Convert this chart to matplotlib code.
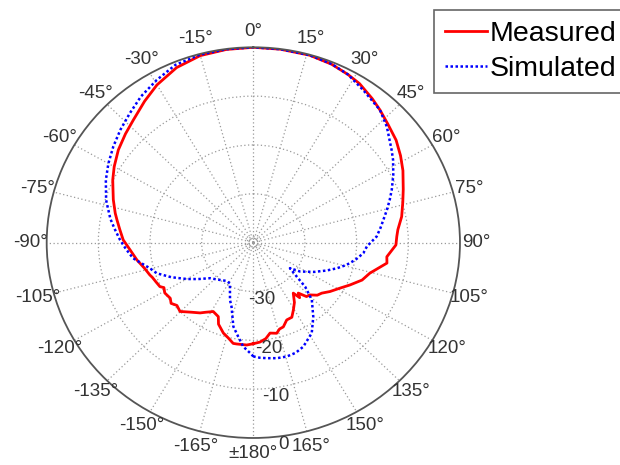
import numpy as np
import matplotlib
matplotlib.use('Agg')
import matplotlib.pyplot as plt

plt.rcParams['font.family'] = ['Liberation Sans', 'DejaVu Sans']

# ---- data (angle in deg, clockwise from top; level in dB) ----
meas_ang = [-180, -176.5, -171.2, -169.3, -166, -162.6, -158, -155.9, -151.2, -147, -144.4,
            -140, -134.8, -131, -128, -125.3, -121, -118, -116.5, -113, -110, -108.3,
            -104, -99, -94, -88.7, -84, -80, -77.3, -72, -68, -64.7, -60, -54, -48,
            -42.8, -36, -30, -22.5, -15, -7.5, 0, 7.5, 15.8, 22.5, 28, 32.3, 38, 42,
            47, 52.8, 58, 63, 69.4, 74, 79.5, 84.6, 87.4, 91, 96.4, 99.2,
            105.5, 110, 114.9, 119, 124, 128, 131, 134.4, 137, 139.9, 141.5, 143.2,
            147, 150.6, 154, 157.8, 161.4, 164, 166.3, 170.1, 173, 176.4, 180]
meas_db = [-19.3, -19.0, -19.0, -19.0, -19.9, -20.6, -22.0, -23.4, -23.9, -23.0, -22.3,
           -21.4, -20.0, -20.4, -19.8, -20.3, -20.0, -20.4, -19.8, -19.5, -19.2, -18.9,
           -18.3, -17.2, -16.2, -14.8, -14.0, -13.2, -12.6, -11.5, -10.7, -9.9, -8.9, -7.7, -6.7,
           -5.8, -4.2, -2.7, -1.2, -0.35, -0.1, 0.0, -0.05, -0.1, -0.45, -1.0, -1.5, -2.6, -3.4,
           -4.4, -5.3, -6.4, -7.5, -9.0, -9.9, -10.8, -11.9, -12.2, -12.4, -14.0, -13.8,
           -16.6, -17.6, -19.4, -20.8, -22.1, -23.2, -23.6, -24.7, -24.9, -26.5, -25.6, -27.1,
           -25.4, -24.2, -23.0, -22.9, -21.8, -21.6, -20.9, -21.2, -20.2, -19.6, -19.3]

sim_ang = [-180, -178.4, -174.8, -171.4, -167.3, -162.2, -159, -151.5, -146.5, -138, -131,
           -125, -120, -114, -108.6, -104.7, -97.8, -93, -88.8, -84, -80, -76, -73, -65.8,
           -60, -54, -48, -42, -36, -29.3, -22.5, -15, -7.5,
           0, 7.5, 15.8, 22.5, 28, 34.2, 42, 47.4, 54.7, 58, 63, 68, 71.7, 75.5, 79.5,
           83, 87, 92, 95.8, 100, 104.2, 108, 111.9, 117, 123.2,
           126.4, 129.6, 132, 136, 142.6, 148.6, 155.6, 160, 164.5, 169, 173.7, 177, 180]
sim_db = [-16.7, -17.4, -18.6, -20.5, -22.4, -26.2, -27.4, -30.5, -30.6, -29.8, -28.9,
          -27.0, -25.1, -22.6, -20.3, -19.3, -16.5, -15.3, -14.2, -13.0, -11.9, -11.0, -10.2, -8.7,
          -7.6, -6.5, -5.4, -4.3, -3.0, -1.8, -0.6, -0.15, -0.05,
          0.0, -0.05, -0.1, -0.4, -1.0, -2.2, -3.4, -4.9, -7.2, -8.1, -9.6, -11.1, -12.2, -13.3, -14.4,
          -15.2, -16.1, -18.0, -18.6, -19.9, -21.4, -23.0, -24.7, -26.8, -29.2,
          -31.2, -29.1, -26.5, -23.7, -20.9, -18.3, -16.6, -16.0, -15.8, -15.9, -16.2, -16.4, -16.7]

theta_ticks = list(range(0, 360, 15))
theta_labels = ['0°', '15°', '30°', '45°', '60°', '75°', '90°', '105°', '120°', '135°',
                '150°', '165°', '±180°', '-165°', '-150°', '-135°', '-120°', '-105°',
                '-90°', '-75°', '-60°', '-45°', '-30°', '-15°']
r_ticks = [-30, -20, -10, 0]
r_labels = ['-30', '-20', '-10', '0']

fig = plt.figure(figsize=(6.2, 4.65), dpi=100)
ax = fig.add_axes([0.0753, 0.0581, 0.6666, 0.8402], projection='polar')
ax.set_theta_zero_location('N')
ax.set_theta_direction(-1)
ax.set_ylim(-40, 0)
ax.set_aspect('auto')

# grid
ax.set_xticks(np.deg2rad(theta_ticks))
ax.set_xticklabels([])
ax.set_yticks([-38.8, -30, -20, -10])
ax.set_yticklabels([])
ax.grid(True, color='#9a9a9a', linestyle=(0, (1, 2)), linewidth=0.9)
ax.tick_params(axis='x', length=4, direction='in', color='#555555', width=1)
ax.spines['polar'].set_color('#555555')
ax.spines['polar'].set_linewidth(1.3)

# curves
l1, = ax.plot(np.deg2rad(meas_ang), meas_db, color='#ff0000', lw=2.0)
l2, = ax.plot(np.deg2rad(sim_ang), sim_db, color='#0000ff', lw=1.8, linestyle=(0, (1, 1)))

# angle labels outside the circle
for a, lab in zip(theta_ticks, theta_labels):
    ax.text(np.deg2rad(a), 3.2, lab, ha='center', va='center', fontsize=13.5,
            color='#333333', clip_on=False)

# radial labels near the bottom
for r, lab in zip(r_ticks, r_labels):
    ax.text(np.deg2rad(172), r + 1.8, lab, ha='center', va='center', fontsize=13.5,
            color='#333333', clip_on=False)

leg = fig.legend([l1, l2], ['Measured', 'Simulated'], loc='upper left',
                 bbox_to_anchor=(434 / 620, 1 - 10 / 465), fontsize=20.5,
                 fancybox=False, framealpha=1, edgecolor='#666666',
                 handlelength=1.45, handletextpad=0.1, borderpad=0.4,
                 labelspacing=0.3, borderaxespad=0)
leg.get_frame().set_linewidth(1.2)

fig.savefig('out.png', dpi=100)
